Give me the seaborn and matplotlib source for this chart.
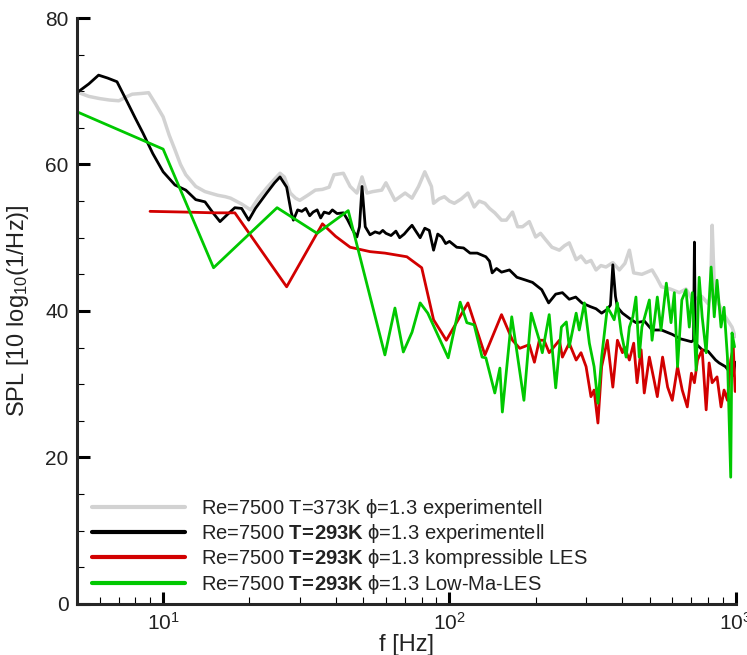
import pandas as pd
import numpy as np
import matplotlib
matplotlib.use("Agg")
import matplotlib.pyplot as plt
import seaborn as sns
from matplotlib.ticker import MultipleLocator, LogLocator, NullFormatter

# Series labels (legend), colours
labels = [
    r"Re=7500 T=373K $\mathrm{\phi}$=1.3 experimentell",
    r"Re=7500 $\mathbf{T\!=\!293K}$ $\mathrm{\phi}$=1.3 experimentell",
    r"Re=7500 $\mathbf{T\!=\!293K}$ $\mathrm{\phi}$=1.3 kompressible LES",
    r"Re=7500 $\mathbf{T\!=\!293K}$ $\mathrm{\phi}$=1.3 Low-Ma-LES",
]
colors = ["#d2d2d2", "#000000", "#d20000", "#00c800"]

# T=373K experiment (grey)
f_gray = [5.0, 5.5, 6.0, 6.5, 7.0, 7.5, 7.8, 8.4, 8.9, 9.4,
          10.0, 10.5, 11.0, 11.5, 12.0, 13.0, 14.0, 15.5, 16.5, 17.2,
          18.8, 20.2, 21.5, 23.0, 24.5, 25.6, 26.5, 27.8, 29.0, 30.0,
          32.0, 34.0, 36.0, 38.0, 39.5, 42.6, 45.0, 47.5, 49.5, 51.5,
          54.0, 58.0, 60.0, 64.5, 70.0, 74.0, 78.0, 82.0, 86.5, 88.0,
          92.0, 96.0, 100.0, 104.0, 110.0, 116.0, 122.0, 127.0, 133.0, 138.0,
          144.0, 152.0, 158.0, 166.0, 173.0, 180.0, 190.0, 200.0, 208.0, 217.0,
          228.0, 242.0, 252.0, 262.0, 277.0, 288.0, 300.0, 312.0, 325.0, 338.0,
          352.0, 372.0, 392.0, 410.0, 425.0, 440.0, 470.0, 490.0, 510.0, 530.0,
          550.0, 590.0, 635.0, 670.0, 705.0, 760.0, 800.0, 815.0, 827.0, 840.0,
          870.0, 920.0, 970.0, 995.0]
spl_gray = [69.9, 69.3, 69.0, 68.8, 68.7, 69.3, 69.6, 69.7, 69.8, 68.3,
            66.5, 64.0, 62.0, 60.0, 58.6, 57.0, 56.3, 55.8, 55.6, 55.4,
            54.6, 53.8, 55.4, 56.8, 58.0, 58.8, 58.3, 56.1, 55.4, 55.1,
            55.8, 56.5, 56.6, 56.9, 58.6, 58.8, 57.0, 56.1, 58.3, 56.1,
            56.3, 56.5, 57.5, 55.1, 56.1, 55.4, 57.0, 59.0, 57.0, 54.7,
            55.3, 55.6, 55.0, 54.7, 55.3, 56.1, 54.2, 55.0, 54.7, 54.0,
            53.4, 52.4, 52.4, 53.5, 51.5, 51.5, 52.2, 50.1, 50.6, 49.7,
            48.7, 48.3, 48.9, 49.3, 47.0, 47.5, 46.6, 46.9, 45.6, 46.2,
            46.0, 46.6, 45.6, 46.5, 48.3, 45.2, 45.0, 45.3, 45.6, 44.5,
            43.3, 43.0, 42.5, 43.0, 41.5, 42.0, 41.0, 42.0, 51.7, 44.0,
            41.0, 39.2, 37.8, 36.5]

# T=293K experiment (black)
f_black = [5.0, 5.5, 5.95, 6.4, 6.9, 7.5, 8.0, 8.5, 9.2, 10.0,
           11.0, 12.0, 13.0, 14.0, 15.0, 15.8, 16.8, 17.8, 18.8, 19.9,
           21.0, 23.0, 24.5, 25.6, 27.0, 28.0, 28.5, 29.5, 30.5, 31.5,
           32.5, 33.4, 34.5, 35.5, 36.5, 38.0, 39.0, 40.5, 42.6, 44.0,
           46.0, 47.5, 48.5, 49.5, 50.8, 52.8, 55.0, 57.0, 58.5, 60.0,
           62.5, 65.0, 67.0, 69.5, 72.0, 74.0, 76.0, 79.0, 82.0, 85.0,
           88.0, 91.0, 94.0, 97.0, 100.0, 106.0, 112.0, 118.0, 125.0, 134.0,
           138.0, 141.0, 146.0, 152.0, 162.0, 172.0, 185.0, 195.0, 210.0, 222.0,
           235.0, 248.0, 262.0, 276.0, 290.0, 310.0, 325.0, 340.0, 355.0, 365.0,
           372.0, 380.0, 386.0, 402.0, 425.0, 448.0, 480.0, 510.0, 550.0, 600.0,
           640.0, 670.0, 700.0, 712.0, 717.0, 722.0, 727.0, 763.0, 800.0, 850.0,
           875.0, 920.0, 960.0, 980.0, 995.0]
spl_black = [69.8, 71.0, 72.2, 71.8, 71.3, 68.5, 66.3, 64.3, 61.5, 59.0,
             57.2, 56.5, 55.2, 54.9, 53.3, 52.2, 53.2, 54.1, 54.0, 52.4,
             54.0, 56.1, 57.5, 58.3, 56.9, 53.5, 52.4, 53.8, 53.6, 54.0,
             53.0, 53.5, 53.8, 52.7, 53.5, 53.3, 53.8, 53.3, 53.4, 52.5,
             51.0, 50.1, 51.5, 57.0, 51.5, 50.4, 50.8, 50.6, 51.0, 50.6,
             50.3, 50.9, 50.0, 50.5, 51.2, 51.7, 51.0, 50.0, 51.3, 51.0,
             48.3, 50.5, 50.1, 49.2, 49.5, 48.7, 48.6, 47.9, 47.9, 47.4,
             46.8, 45.2, 45.8, 45.3, 45.6, 44.6, 44.2, 43.9, 42.9, 41.1,
             42.3, 42.5, 41.6, 41.9, 41.1, 40.6, 40.3, 39.7, 40.2, 40.8,
             46.3, 42.0, 40.5, 39.7, 39.0, 38.4, 38.6, 37.4, 37.4, 36.8,
             36.2, 36.0, 35.8, 36.0, 49.4, 37.0, 35.5, 34.7, 34.5, 33.3,
             32.9, 32.4, 31.5, 31.2, 33.0]

# compressible LES (red)
f_red = [9.0, 12.0, 15.0, 17.8, 27.0, 36.0, 40.0, 45.0, 52.8, 59.5,
         71.0, 80.0, 88.0, 97.5, 116.0, 133.0, 152.0, 166.0, 176.0, 190.0,
         198.0, 206.0, 214.0, 223.0, 242.0, 248.0, 262.0, 277.0, 288.0, 300.0,
         312.0, 320.0, 330.0, 340.0, 356.0, 372.0, 386.0, 402.0, 408.0, 425.0,
         440.0, 452.0, 467.0, 479.0, 499.0, 518.0, 532.0, 555.0, 578.0, 600.0,
         626.0, 650.0, 677.0, 700.0, 717.0, 735.0, 763.0, 788.0, 807.0, 827.0,
         860.0, 888.0, 910.0, 935.0, 960.0, 980.0, 995.0]
spl_red = [53.6, 53.5, 53.4, 53.4, 43.3, 51.9, 50.2, 48.7, 48.1, 47.9,
           47.4, 45.9, 38.8, 36.0, 41.1, 34.0, 39.5, 36.0, 34.9, 35.4,
           33.0, 36.0, 36.0, 34.3, 36.0, 33.7, 35.6, 33.3, 34.3, 32.4,
           28.3, 29.2, 24.7, 32.4, 36.0, 29.6, 36.0, 34.3, 35.1, 33.3,
           35.6, 30.2, 34.7, 28.8, 33.7, 30.6, 28.3, 33.7, 29.6, 27.8,
           32.4, 29.2, 26.9, 31.5, 30.2, 33.3, 34.7, 26.5, 32.9, 30.2,
           31.0, 26.9, 29.2, 27.8, 33.3, 35.0, 29.0]

# Low-Ma LES (green)
f_green = [5.0, 10.0, 15.0, 25.0, 34.5, 44.3, 59.5, 64.5, 69.0, 74.0,
           79.0, 84.0, 99.0, 109.0, 115.0, 122.0, 130.0, 134.0, 144.0, 150.0,
           153.0, 165.0, 171.0, 182.0, 193.0, 206.0, 211.0, 223.0, 235.0, 246.0,
           256.0, 262.0, 277.0, 284.0, 296.0, 308.0, 320.0, 330.0, 340.0, 356.0,
           366.0, 376.0, 386.0, 398.0, 414.0, 425.0, 437.0, 448.0, 460.0, 470.0,
           499.0, 510.0, 532.0, 548.0, 572.0, 594.0, 610.0, 626.0, 648.0, 670.0,
           688.0, 705.0, 727.0, 745.0, 763.0, 788.0, 820.0, 841.0, 860.0, 888.0,
           910.0, 935.0, 960.0, 970.0, 990.0]
spl_green = [67.2, 62.1, 45.9, 54.1, 50.6, 53.7, 34.0, 40.4, 34.4, 37.1,
             41.1, 39.7, 33.6, 41.2, 38.4, 38.1, 33.7, 33.6, 28.8, 32.2,
             26.2, 39.2, 35.1, 27.8, 39.7, 36.0, 34.3, 39.5, 29.5, 37.8,
             38.5, 35.1, 39.7, 37.4, 41.1, 35.6, 32.4, 27.4, 33.7, 40.5,
             39.7, 38.8, 41.1, 37.0, 33.7, 37.8, 39.2, 41.9, 33.7, 37.8,
             41.5, 36.0, 41.9, 37.4, 43.8, 38.4, 42.5, 32.4, 41.5, 42.9,
             37.8, 42.5, 31.9, 44.6, 39.2, 34.3, 46.0, 39.2, 44.2, 37.8,
             40.5, 33.7, 17.3, 37.0, 35.1]

sns.set_style("ticks")
plt.rcParams['font.family'] = ['Liberation Sans', 'DejaVu Sans']
plt.rcParams.update({
    'mathtext.fontset': 'custom',
    'mathtext.rm': 'Liberation Sans',
    'mathtext.bf': 'Liberation Sans:bold',
    'mathtext.it': 'Liberation Sans:italic',
    'mathtext.sf': 'Liberation Sans',
    'text.color': '#222222',
    'axes.labelcolor': '#222222',
    'xtick.color': '#000000',
    'ytick.color': '#000000',
    'xtick.labelcolor': '#222222',
    'ytick.labelcolor': '#222222',
})

frames = []
for lab, f, s in zip(labels, [f_gray, f_black, f_red, f_green],
                     [spl_gray, spl_black, spl_red, spl_green]):
    frames.append(pd.DataFrame({'f': f, 'spl': s, 'series': lab}))
df = pd.concat(frames, ignore_index=True)

fig = plt.figure(figsize=(7.47, 6.55), dpi=100)
ax = fig.add_axes([0.103, 0.078, 0.882, 0.8945])

sns.lineplot(data=df, x='f', y='spl', hue='series', hue_order=labels,
             palette=dict(zip(labels, colors)), estimator=None, sort=False,
             linewidth=2.0, ax=ax)
ax.lines[0].set_linewidth(2.5)

ax.set_xscale('log')
ax.set_xlim(5, 1000)
ax.set_ylim(0, 80)
ax.yaxis.set_major_locator(MultipleLocator(20))
ax.yaxis.set_minor_locator(MultipleLocator(5))
ax.xaxis.set_minor_locator(LogLocator(base=10, subs=np.arange(2, 10)))
ax.xaxis.set_minor_formatter(NullFormatter())

for side in ['top', 'right']:
    ax.spines[side].set_visible(False)
for side in ['left', 'bottom']:
    ax.spines[side].set_linewidth(2.2)

ax.tick_params(which='major', direction='in', length=9, width=2.2, labelsize=15, pad=6)
ax.tick_params(which='minor', direction='in', length=5, width=0.8)

ax.set_xlabel("f [Hz]", fontsize=17, labelpad=0)
ax.set_ylabel(r"SPL [10 log$_{10}$(1/Hz)]", fontsize=17, labelpad=10)

handles, labs = ax.get_legend_handles_labels()
leg = ax.legend(handles, labs, loc='lower left', bbox_to_anchor=(0.01, 0.0),
                frameon=False, fontsize=14.5, handlelength=4.65,
                handletextpad=0.8, labelspacing=0.12, borderaxespad=0)
for ln in leg.get_lines():
    ln.set_linewidth(3.0)

fig.savefig("out.png", dpi=100)
